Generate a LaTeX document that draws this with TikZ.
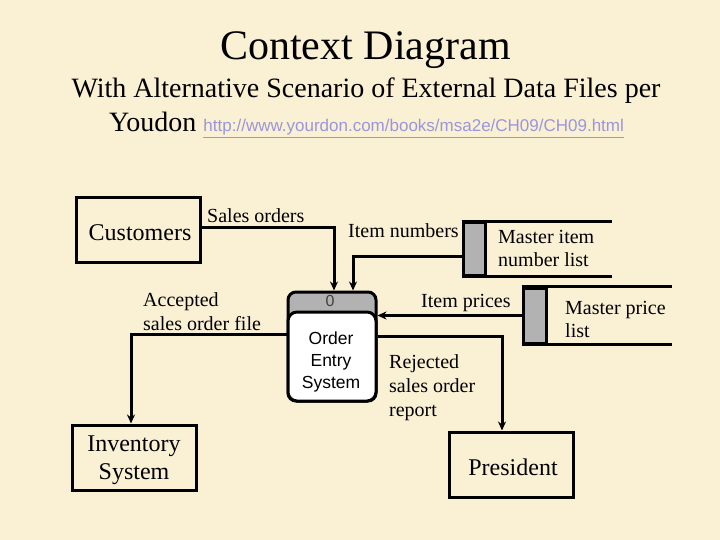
\documentclass[tikz,border=0pt]{standalone}
\usepackage{fontspec}
\setmainfont{Liberation Serif}
\setsansfont{Liberation Sans}
\usetikzlibrary{arrows.meta,calc}
\definecolor{bg}{RGB}{250,240,212}
\definecolor{storegray}{RGB}{178,178,178}
\definecolor{linkc}{RGB}{155,150,220}
\tikzset{
  entity/.style={draw, line width=3pt, minimum width=124pt, minimum height=65pt, inner sep=0pt},
  entitytext/.style={font=\fontsize{24}{28}\selectfont, align=center, inner sep=0pt},
  flow/.style={line width=3pt, -{Stealth[length=9pt,width=8pt]}},
  flowlabel/.style={font=\fontsize{20}{24}\selectfont, align=left, inner sep=0pt, anchor=west},
  storebox/.style={draw, line width=3pt, fill=storegray, inner sep=0pt},
  storeline/.style={line width=3pt},
  storetext/.style={font=\fontsize{20}{23}\selectfont, align=left, inner sep=0pt, anchor=west},
}
\begin{document}
\begin{tikzpicture}[x=1pt,y=-1pt]
\fill[bg] (0,0) rectangle (720,540);
\useasboundingbox (0,0) rectangle (720,540);

% titles
\node[font=\fontsize{42}{46}\selectfont, inner sep=0pt] (title) at (365.5,50) {Context Diagram};
\node[font=\fontsize{28}{32}\selectfont, inner sep=0pt] (sub1) at (366,91) {With Alternative Scenario of External Data Files per};
\node[font=\fontsize{28}{32}\selectfont, inner sep=0pt, anchor=base] (sub2) at (366.5,132)
  {Youdon {\sffamily\fontsize{17}{20}\selectfont\color{linkc}\underline{http://www.yourdon.com/books/msa2e/CH09/CH09.html}}};

% external entities
\node[entity] (cust) at (138,230) {};
\node[entitytext] (custtext) at (140,233) {Customers};
\node[entity] (inv) at (134,457.5) {};
\node[entitytext] (invtext) at (134,460) {Inventory\\System};
\node[entity] (pres) at (511,464.5) {};
\node[entitytext] (prestext) at (513,467) {President};

% process
\node[draw, line width=3pt, fill=storegray, rounded corners=8pt, minimum width=88pt, minimum height=109pt, inner sep=0pt] (proc) at (332,346.5) {};
\draw[line width=3pt, fill=white, rounded corners=9pt] (288,312) rectangle (376,401);
\node[font=\sffamily\fontsize{16}{18}\selectfont, text=black!75, inner sep=0pt] (pid) at (330,301) {0};
\node[font=\sffamily\fontsize{17.5}{22}\selectfont, align=center, inner sep=0pt] (ptext) at (331,362) {Order\\Entry\\System};

% data stores
\node[storebox, minimum width=22pt, minimum height=52pt] (mil) at (474,249) {};
\coordinate (milend) at (612,249);
\draw[storeline] (mil.north west) -- (mil.north west -| milend);
\draw[storeline] (mil.south west) -- (mil.south west -| milend);
\node[storetext] (miltext) at (498,248) {Master item\\number list};

\node[storebox, minimum width=23pt, minimum height=55pt] (mpl) at (534.5,315.5) {};
\coordinate (mplend) at (672,315);
\draw[storeline] (mpl.north west) -- (mpl.north west -| mplend);
\draw[storeline] (mpl.south west) -- (mpl.south west -| mplend);
\node[storetext] (mpltext) at (565,319.5) {Master price\\list};

% connectors
\coordinate (c1) at (334,228);
\draw[flow] (cust.east |- c1) -| (proc.north -| c1);
\node[flowlabel] (l1) at (207,216) {Sales orders};

\coordinate (c2) at (353,256);
\draw[flow] (mil.west |- c2) -| (proc.north -| c2);
\node[flowlabel] (l2) at (348,231) {Item numbers};

\draw[flow] (mpl.west) -- (proc.east |- mpl.west);
\node[flowlabel] (l3) at (421,303) {Item prices};

\coordinate (c4) at (502,336);
\draw[flow] (proc.east |- c4) -| (pres.north -| c4);
\node[flowlabel] (l4) at (389,388) {Rejected\\sales order\\report};

\coordinate (c5) at (131,334);
\draw[flow] (proc.west |- c5) -| (inv.north -| c5);
\node[flowlabel] (l5) at (143,312) {Accepted\\sales order file};
\end{tikzpicture}
\end{document}
